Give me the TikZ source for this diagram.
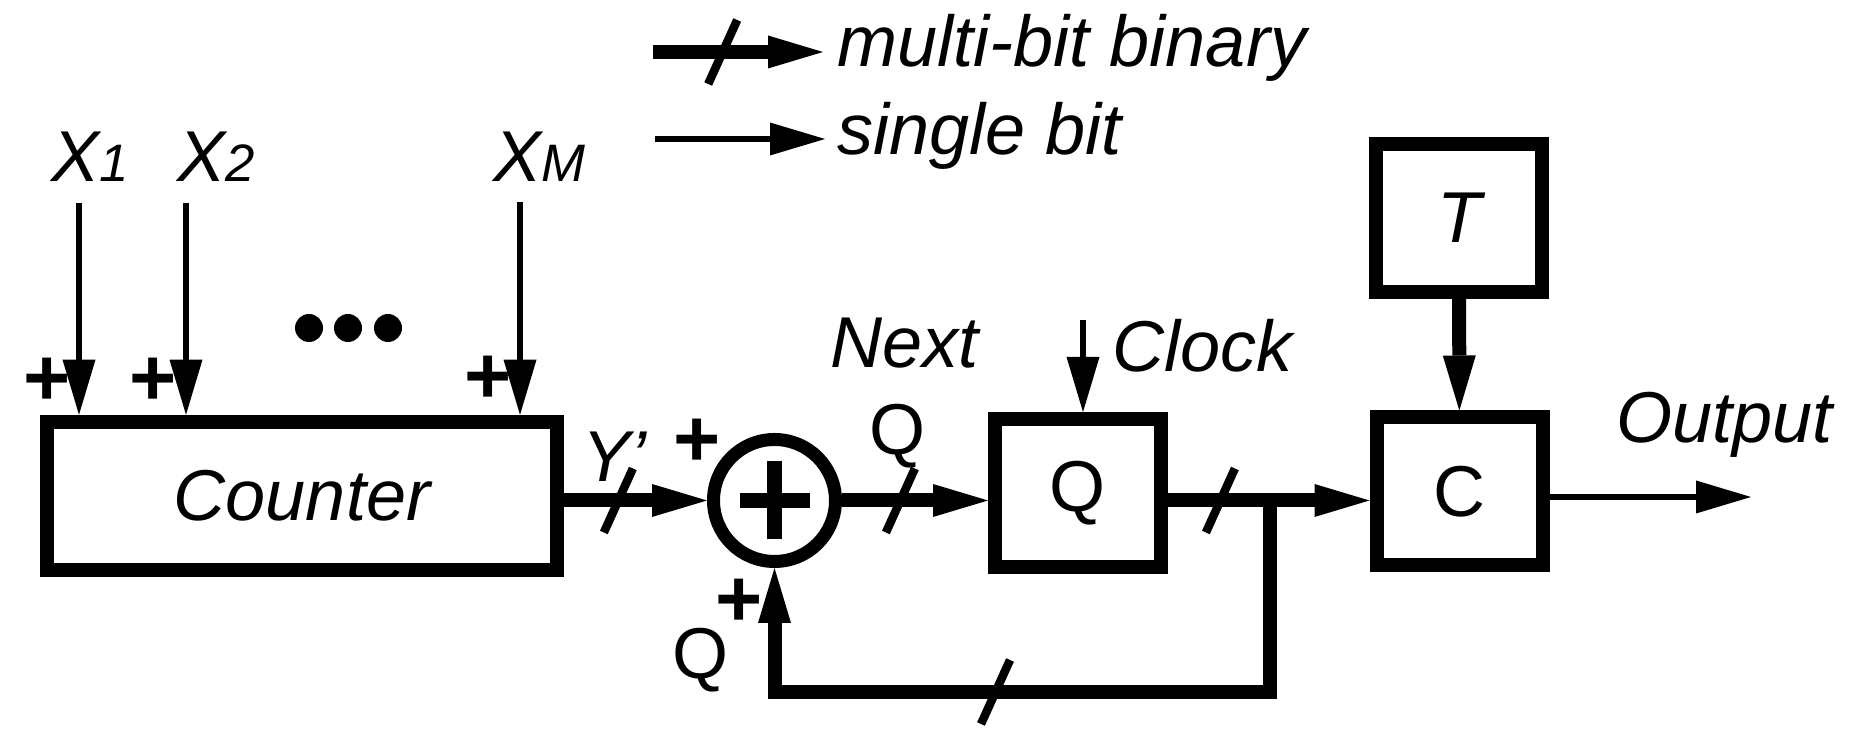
\documentclass[tikz,border=0pt]{standalone}
\usepackage{fontspec}
\setmainfont{Liberation Sans}
\usetikzlibrary{positioning,arrows.meta,calc}

\newcommand{\subtxt}[1]{{\fontsize{15}{18}\selectfont #1}}
\newcommand{\busmark}[1]{\draw[slash] (#1) ++(-0.145,-0.32) -- ++(0.29,0.64);}

\begin{document}
\begin{tikzpicture}[
    x=1cm, y=1cm,
    every node/.style={font=\fontsize{20.5}{24}\selectfont\itshape},
    block/.style={
      draw,
      line width=0.14cm,
      minimum width=1.66cm,
      minimum height=1.48cm,
      inner sep=0pt
    },
    adder/.style={
      draw,
      circle,
      line width=0.13cm,
      minimum size=1.22cm,
      inner sep=0pt
    },
    bus/.style={line width=0.14cm, -{Triangle[length=0.55cm, width=0.33cm, line width=0pt]}},
    wire/.style={line width=0.065cm, -{Triangle[length=0.55cm, width=0.33cm, line width=0pt]}},
    slash/.style={line width=0.085cm},
    sign/.style={font=\fontsize{23}{23}\selectfont\bfseries, inner sep=0pt},
    lbl/.style={inner sep=0pt}
  ]
    \useasboundingbox (0,0) rectangle (18.5,7.54);

    % legend
    \coordinate (lgb) at (6.53, 7.02);
    \node[lbl, anchor=base west, inner xsep=0.14cm] (lgbus) at (8.23, 6.87) {multi-bit binary};
    \draw[bus] (lgb) -- coordinate[pos=0.41] (s0) (lgb -| lgbus.west);
    \busmark{s0}
    \coordinate (lgw) at (6.55, 6.15);
    \node[lbl, anchor=base west, inner xsep=0.12cm] (lgwire) at (8.25, 5.99) {single bit};
    \draw[wire] (lgw) -- (lgw -| lgwire.west);

    % counter and inputs
    \node[block, minimum width=5.10cm, minimum height=1.485cm] (cnt) at (3.02, 2.58) {Counter};
    \node[lbl, anchor=base west] (x1) at (0.51, 5.72) {X\subtxt{1}};
    \node[lbl, anchor=base west] (x2) at (1.77, 5.72) {X\subtxt{2}};
    \node[lbl, anchor=base west] (xm) at (4.93, 5.72) {X\subtxt{M}};
    \coordinate (in1) at (0.79, 5.51);
    \coordinate (in2) at (1.86, 5.51);
    \coordinate (inm) at (5.20, 5.52);
    \draw[wire] (in1) -- (in1 |- cnt.north);
    \draw[wire] (in2) -- (in2 |- cnt.north);
    \draw[wire] (inm) -- (inm |- cnt.north);
    \node[sign] (p1) at (0.47, 3.72) {+};
    \node[sign] (p2) at (1.53, 3.72) {+};
    \node[sign] (pm) at (4.88, 3.74) {+};
    \foreach \dx in {3.09, 3.48, 3.88}
      \fill (\dx, 4.26) circle (0.14);

    % adder
    \node[adder] (sum) at (7.745, 2.535) {};
    \draw[line width=0.15cm] (sum.center) ++(-0.35,0) -- ++(0.70,0);
    \draw[line width=0.15cm] (sum.center) ++(0,-0.39) -- ++(0,0.78);
    \node[sign] (ps) at (6.97, 3.11) {+};
    \draw[bus] (cnt.east |- sum) -- coordinate[pos=0.38] (s1) (sum);
    \busmark{s1}
    \node[lbl, anchor=base west] (yp) at (5.82, 2.72) {Y'};

    % register
    \node[block] (q) at (10.78, 2.61) {\upshape Q};
    \draw[bus] (sum) -- coordinate[pos=0.40] (s2) (q.west |- sum);
    \busmark{s2}
    \node[lbl, anchor=base west] (nxt) at (8.30, 3.86) {Next};
    \node[lbl, anchor=base] (nq) at (8.975, 2.99) {\upshape Q};
    \coordinate (clk) at (10.83, 4.34);
    \draw[wire] (clk) -- (clk |- q.north);
    \node[lbl, anchor=base west] (clock) at (11.12, 3.82) {Clock};

    % comparator
    \node[block] (c) at (14.595, 2.625) {\upshape C};
    \node[block] (t) at (14.59, 5.36) {T};
    \draw[bus] (t) -- (c);
    \draw[bus] (q.east |- sum) -- coordinate[pos=0.26] (s3) (c.west |- sum);
    \busmark{s3}
    \coordinate (out) at (17.51, 2.57);
    \draw[wire] (c.east |- out) -- (out);
    \node[lbl, anchor=base west] (outlbl) at (16.16, 3.11) {Output};

    % feedback
    \coordinate (jn) at (12.70, 2.535);
    \coordinate (fb) at (12.70, 0.62);
    \draw[bus] (jn) -- (fb) -| coordinate[pos=0.277] (s4) (sum.south);
    \busmark{s4}
    \node[sign] (pq) at (7.39, 1.51) {+};
    \node[lbl, anchor=base] (fq) at (7.01, 0.75) {\upshape Q};
\end{tikzpicture}
\end{document}
